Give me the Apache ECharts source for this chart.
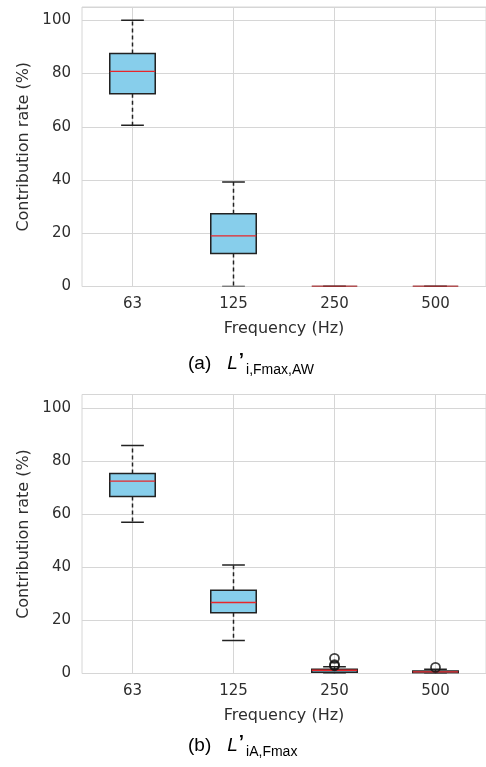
<!DOCTYPE html>
<html><head><meta charset="utf-8">
<script src="https://cdn.jsdelivr.net/npm/echarts@6/dist/echarts.min.js"></script>
<style>html,body{margin:0;padding:0;background:#fff}#c{width:486px;height:767px}</style>
</head><body><div id="c"></div>
<script>
// ---- data ----
const categories = ['63', '125', '250', '500'];
const yTickValues = [0, 20, 40, 60, 80, 100];

// Panel (a): L'i,Fmax,AW
const aLow  = [60.6, 0.0, 0, 0];
const aQ1   = [72.4, 12.4, 0, 0];
const aMed  = [80.8, 19.0, 0, 0];
const aQ3   = [87.5, 27.3, 0, 0];
const aHigh = [100.0, 39.3, 0, 0];

// Panel (b): L'iA,Fmax
const bLow  = [56.9, 12.4, 0.0, 0.0];
const bQ1   = [66.6, 22.9, 0.5, 0.2];
const bMed  = [72.4, 26.7, 1.2, 0.6];
const bQ3   = [75.3, 31.3, 1.6, 0.9];
const bHigh = [85.8, 40.8, 2.5, 1.6];
const bOutlierCats = ['250', '250', '250', '500'];
const bOutlierVals = [5.7, 3.3, 2.9, 2.3];

const xName = 'Frequency (Hz)';
const yName = 'Contribution rate (%)';

// ---- build ----
function boxData(lo, q1, md, q3, hi) {
  return categories.map((c, i) => [i, lo[i], q1[i], md[i], q3[i], hi[i]]);
}
function renderBox(params, api) {
  const x = api.value(0);
  const lo = api.coord([x, api.value(1)]);
  const q1 = api.coord([x, api.value(2)]);
  const md = api.coord([x, api.value(3)]);
  const q3 = api.coord([x, api.value(4)]);
  const hi = api.coord([x, api.value(5)]);
  const band = api.size([1, 0])[0];
  const bw = band * 0.45, cw = bw / 2;
  const cx = md[0];
  const dark = '#222';
  const dash = {stroke: dark, lineWidth: 1.5, lineDash: [4, 3]};
  const solid = {stroke: dark, lineWidth: 1.5};
  return {
    type: 'group',
    children: [
      {type: 'line', shape: {x1: cx, y1: q3[1], x2: cx, y2: hi[1]}, style: dash},
      {type: 'line', shape: {x1: cx, y1: q1[1], x2: cx, y2: lo[1]}, style: dash},
      {type: 'line', shape: {x1: cx - cw / 2, y1: hi[1], x2: cx + cw / 2, y2: hi[1]}, style: solid},
      {type: 'line', shape: {x1: cx - cw / 2, y1: lo[1], x2: cx + cw / 2, y2: lo[1]}, style: solid},
      {type: 'rect', shape: {x: cx - bw / 2, y: q3[1], width: bw, height: q1[1] - q3[1]},
        style: {fill: '#87CEEB', stroke: dark, lineWidth: 1.5}},
      {type: 'line', shape: {x1: cx - bw / 2, y1: md[1], x2: cx + bw / 2, y2: md[1]},
        style: {stroke: '#e8262a', lineWidth: 1.4}}
    ]
  };
}

const gridColor = '#d6d6d6';
const txt = '#2e2e2e';
const tickFont = 'DejaVu Sans';

function xAxisFor(gi) {
  return {
    type: 'category', gridIndex: gi, data: categories, boundaryGap: true,
    axisLine: {show: false}, axisTick: {show: false},
    axisLabel: {fontSize: 15, color: txt, fontFamily: tickFont, margin: 10},
    splitLine: {show: true, alignWithLabel: true, lineStyle: {color: gridColor, width: 1}},
    name: xName, nameLocation: 'middle', nameGap: 34,
    nameTextStyle: {fontSize: 16, color: txt, fontFamily: tickFont}
  };
}
function yAxisFor(gi) {
  return {
    type: 'value', gridIndex: gi, min: 0, max: 105, interval: 20,
    axisLine: {show: false}, axisTick: {show: false},
    axisLabel: {fontSize: 15, color: txt, fontFamily: tickFont, margin: 11, showMaxLabel: false,
      formatter: v => yTickValues.includes(v) ? String(v) : ''},
    splitLine: {show: true, lineStyle: {color: gridColor, width: 1}},
    name: yName, nameLocation: 'middle', nameGap: 42,
    nameTextStyle: {fontSize: 16, color: txt, fontFamily: tickFont}
  };
}

function caption(label, sub, top) {
  return {
    type: 'text', left: 188, top: top,
    style: {
      text: '{p|' + label + '}{l|L}{q|’}{s|' + sub + '}',
      rich: {
        p: {fontSize: 19, fontFamily: 'Liberation Sans', color: '#000', lineHeight: 26, verticalAlign: 'middle'},
        l: {fontSize: 19, fontFamily: 'Liberation Sans', fontStyle: 'italic', color: '#000', padding: [0, 0, 0, 16], verticalAlign: 'middle'},
        q: {fontSize: 19, fontFamily: 'Liberation Sans', fontWeight: 'bold', color: '#000', verticalAlign: 'top', padding: [0, 2, 0, 1]},
        s: {fontSize: 14, fontFamily: 'Liberation Sans', color: '#000', verticalAlign: 'bottom'}
      }
    }
  };
}

const chart = echarts.init(document.getElementById('c'), null, {renderer: 'canvas'});
chart.setOption({
  animation: false,
  backgroundColor: '#fff',
  grid: [
    {left: 82, right: 0, top: 7, height: 279.5, show: true, borderColor: gridColor, borderWidth: 1, backgroundColor: '#fff'},
    {left: 82, right: 0, top: 394.5, height: 279, show: true, borderColor: gridColor, borderWidth: 1, backgroundColor: '#fff'}
  ],
  xAxis: [xAxisFor(0), xAxisFor(1)],
  yAxis: [yAxisFor(0), yAxisFor(1)],
  series: [
    {type: 'custom', xAxisIndex: 0, yAxisIndex: 0, clip: true, renderItem: renderBox,
      encode: {x: 0, y: [1, 2, 3, 4, 5]}, data: boxData(aLow, aQ1, aMed, aQ3, aHigh)},
    {type: 'custom', xAxisIndex: 1, yAxisIndex: 1, clip: true, renderItem: renderBox,
      encode: {x: 0, y: [1, 2, 3, 4, 5]}, data: boxData(bLow, bQ1, bMed, bQ3, bHigh)},
    {type: 'scatter', xAxisIndex: 1, yAxisIndex: 1, z: 5, symbol: 'circle', symbolSize: 9,
      itemStyle: {color: 'rgba(0,0,0,0)', borderColor: '#111', borderWidth: 1.8},
      data: bOutlierCats.map((c, i) => [c, bOutlierVals[i]])}
  ],
  graphic: [
    caption('(a)', 'i,Fmax,AW', 351),
    caption('(b)', 'iA,Fmax', 733)
  ]
});
</script></body></html>
